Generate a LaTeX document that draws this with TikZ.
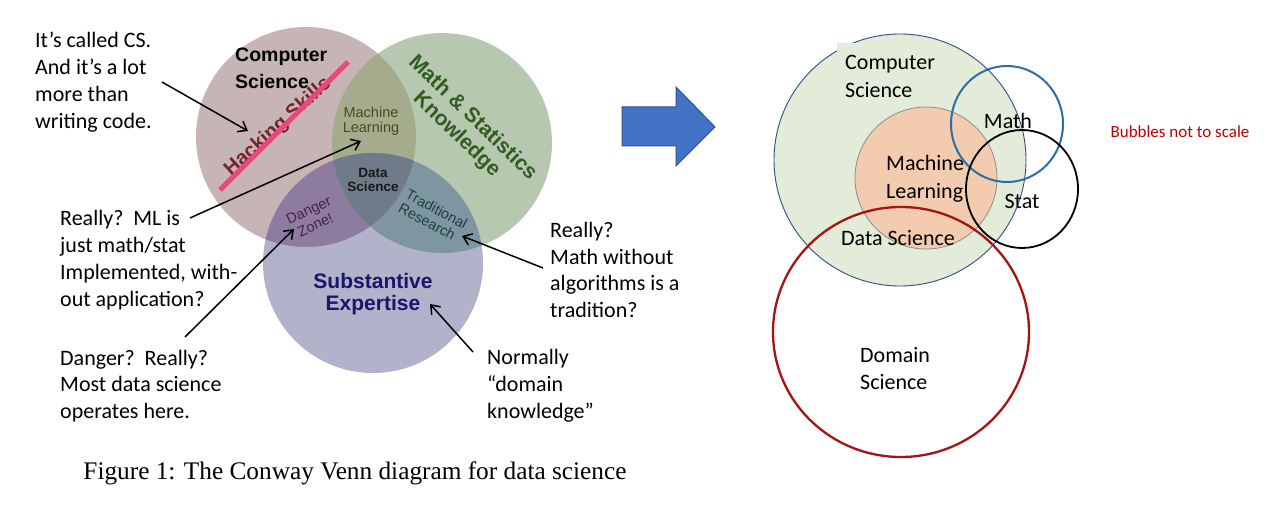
\documentclass[tikz,border=0pt]{standalone}
\usepackage{fontspec}
\setmainfont{Carlito}
\newfontfamily\arialf{Liberation Sans}
\newfontfamily\timesf{Liberation Serif}
\usetikzlibrary{arrows.meta}
\definecolor{cbrown}{HTML}{C7B4B5}
\definecolor{cgreen}{HTML}{B6C8B0}
\definecolor{cpurple}{HTML}{B2B2CB}
\definecolor{cml}{HTML}{A5AC8D}
\definecolor{cdanger}{HTML}{8E7BA0}
\definecolor{ctrad}{HTML}{7E96A0}
\definecolor{cds}{HTML}{707B8A}
\definecolor{hackred}{HTML}{7B2226}
\definecolor{strikepink}{HTML}{E44B7B}
\definecolor{mathgreen}{HTML}{2F5E20}
\definecolor{mlolive}{HTML}{4B4B1B}
\definecolor{dangerpurple}{HTML}{4B1F4F}
\definecolor{tradteal}{HTML}{1F3F3F}
\definecolor{subnavy}{HTML}{17176B}
\definecolor{arrowblue}{HTML}{4472C4}
\definecolor{arrowedge}{HTML}{2F528F}
\definecolor{rgreen}{HTML}{E3EBD9}
\definecolor{rgreenedge}{HTML}{2F4F80}
\definecolor{rorange}{HTML}{F3CBAE}
\definecolor{rorangeedge}{HTML}{8C8C8C}
\definecolor{mathblue}{HTML}{2E6DA8}
\definecolor{domred}{HTML}{A31515}
\definecolor{scalered}{HTML}{C00000}
\begin{document}
\begin{tikzpicture}[x=1pt,y=-1pt,
  note/.style={font=\fontsize{22}{26.8}\selectfont, align=left, anchor=west, inner sep=0pt},
  vlabel/.style={inner sep=0pt},
  rtext/.style={font=\fontsize{22}{28}\selectfont, inner sep=0pt},
  annarrow/.style={draw=black, line width=1.5pt, -{Straight Barb[length=8pt,width=12pt,line width=1.5pt]}}
]
\useasboundingbox[fill=white] (0,0) rectangle (1280,508);

% ---------- left Venn diagram ----------
\coordinate (B) at (306,137);
\coordinate (G) at (442,143);
\coordinate (P) at (373,263);
\fill[cbrown] (B) circle[radius=110];
\fill[cgreen] (G) circle[radius=110];
\fill[cpurple] (P) circle[radius=110];
\begin{scope}\clip (B) circle[radius=110]; \fill[cml] (G) circle[radius=110];\end{scope}
\begin{scope}\clip (B) circle[radius=110]; \fill[cdanger] (P) circle[radius=110];\end{scope}
\begin{scope}\clip (G) circle[radius=110]; \fill[ctrad] (P) circle[radius=110];\end{scope}
\begin{scope}\clip (B) circle[radius=110]; \clip (G) circle[radius=110]; \fill[cds] (P) circle[radius=110];\end{scope}

\node[vlabel, align=left, anchor=west, font=\arialf\bfseries\fontsize{19.5}{27}\selectfont] (cs) at (235,68.5) {Computer\\Science};
\node[vlabel, text=hackred, rotate=42, font=\arialf\bfseries\fontsize{20}{22}\selectfont] (hack) at (278,127) {Hacking Skills};
\coordinate (s1) at (220,190);
\coordinate (s2) at (348,62);
\draw[strikepink, line width=5pt] (s1) -- (s2);
\node[vlabel, text=mathgreen, rotate=-44, align=center, font=\arialf\bfseries\fontsize{21}{23}\selectfont] (mathstat) at (464.5,126.5) {Math \& Statistics\\Knowledge};
\node[vlabel, text=mlolive, align=center, font=\arialf\fontsize{14.5}{15.5}\selectfont] (ml) at (371,121.5) {Machine\\Learning};
\node[vlabel, text=black!90, align=center, font=\arialf\bfseries\fontsize{13.5}{14.5}\selectfont] (ds) at (373,180) {Data\\Science};
\node[vlabel, text=dangerpurple, rotate=25, align=center, font=\arialf\fontsize{14.5}{16}\selectfont] (danger) at (312,217.5) {Danger\\Zone!};
\node[vlabel, text=tradteal, rotate=-28, align=left, font=\arialf\fontsize{14.5}{15.5}\selectfont] (trad) at (433,216) {Traditional\\Research};
\node[vlabel, text=subnavy, align=center, font=\arialf\bfseries\fontsize{21}{22}\selectfont] (subst) at (373,294) {Substantive\\Expertise};

% annotations
\node[note] (n1) at (35,82) {It’s called CS.\\And it’s a lot\\more than\\writing code.};
\node[note] (n2) at (60,260) {Really?\ \ ML is\\just math/stat\\Implemented, with-\\out application?};
\node[note] (n3) at (60,386) {Danger?\ \ Really?\\Most data science\\operates here.};
\node[note] (n4) at (550,270) {Really?\\Math without\\algorithms is a\\tradition?};
\node[note] (n5) at (487,386) {Normally\\“domain\\knowledge”};

\coordinate (a1s) at (162,82);  \coordinate (a1e) at (248,131);
\coordinate (a2s) at (190,218); \coordinate (a2e) at (361,141);
\coordinate (a3s) at (185,337); \coordinate (a3e) at (294,229);
\coordinate (a4s) at (543,268); \coordinate (a4e) at (462,236);
\coordinate (a5s) at (473,352); \coordinate (a5e) at (430,304);
\draw[annarrow] (a1s) -- (a1e);
\draw[annarrow] (a2s) -- (a2e);
\draw[annarrow] (a3s) -- (a3e);
\draw[annarrow] (a4s) -- (a4e);
\draw[annarrow] (a5s) -- (a5e);

\node[font=\timesf\fontsize{25.3}{28}\selectfont, inner sep=0pt] (cap) at (355,473) {Figure 1: The Conway Venn diagram for data science};

% ---------- block arrow ----------
\draw[fill=arrowblue, draw=arrowedge, line width=1pt, line join=miter]
  (622,107) -- (676,107) -- (676,87) -- (715,127) -- (676,166) -- (676,146) -- (622,146) -- cycle;

% ---------- right diagram ----------
\coordinate (CS) at (900,160);
\coordinate (ML) at (926,178);
\fill[rgreen] (CS) circle[radius=126];
\fill[rorange] (ML) circle[radius=71];
\draw[rgreenedge, line width=0.9pt] (CS) circle[radius=126];
\fill[rgreen] (837,43) rectangle (945,100);
\draw[rorangeedge, line width=0.8pt] (ML) circle[radius=71];
\draw[mathblue, line width=2pt] (1007,124) ellipse[x radius=56, y radius=58];
\draw[black, line width=1.8pt] (1022,189) ellipse[x radius=56, y radius=59];
\draw[domred, line width=2.3pt] (901,332) ellipse[x radius=128, y radius=125];

\node[rtext, align=left, anchor=west] (rcs) at (845,76) {Computer\\Science};
\node[rtext] (rmath) at (1008,121) {Math};
\node[rtext, align=left, anchor=west] (rml) at (886,179) {Machine\\Learning};
\node[rtext] (rstat) at (1022,201) {Stat};
\node[rtext] (rds) at (898,238) {Data Science};
\node[rtext, align=left, anchor=west, font=\fontsize{22}{27}\selectfont] (rdom) at (860,368.5) {Domain\\Science};
\node[font=\fontsize{17}{20}\selectfont, text=scalered, inner sep=0pt] (scale) at (1180,132) {Bubbles not to scale};
\end{tikzpicture}
\end{document}
